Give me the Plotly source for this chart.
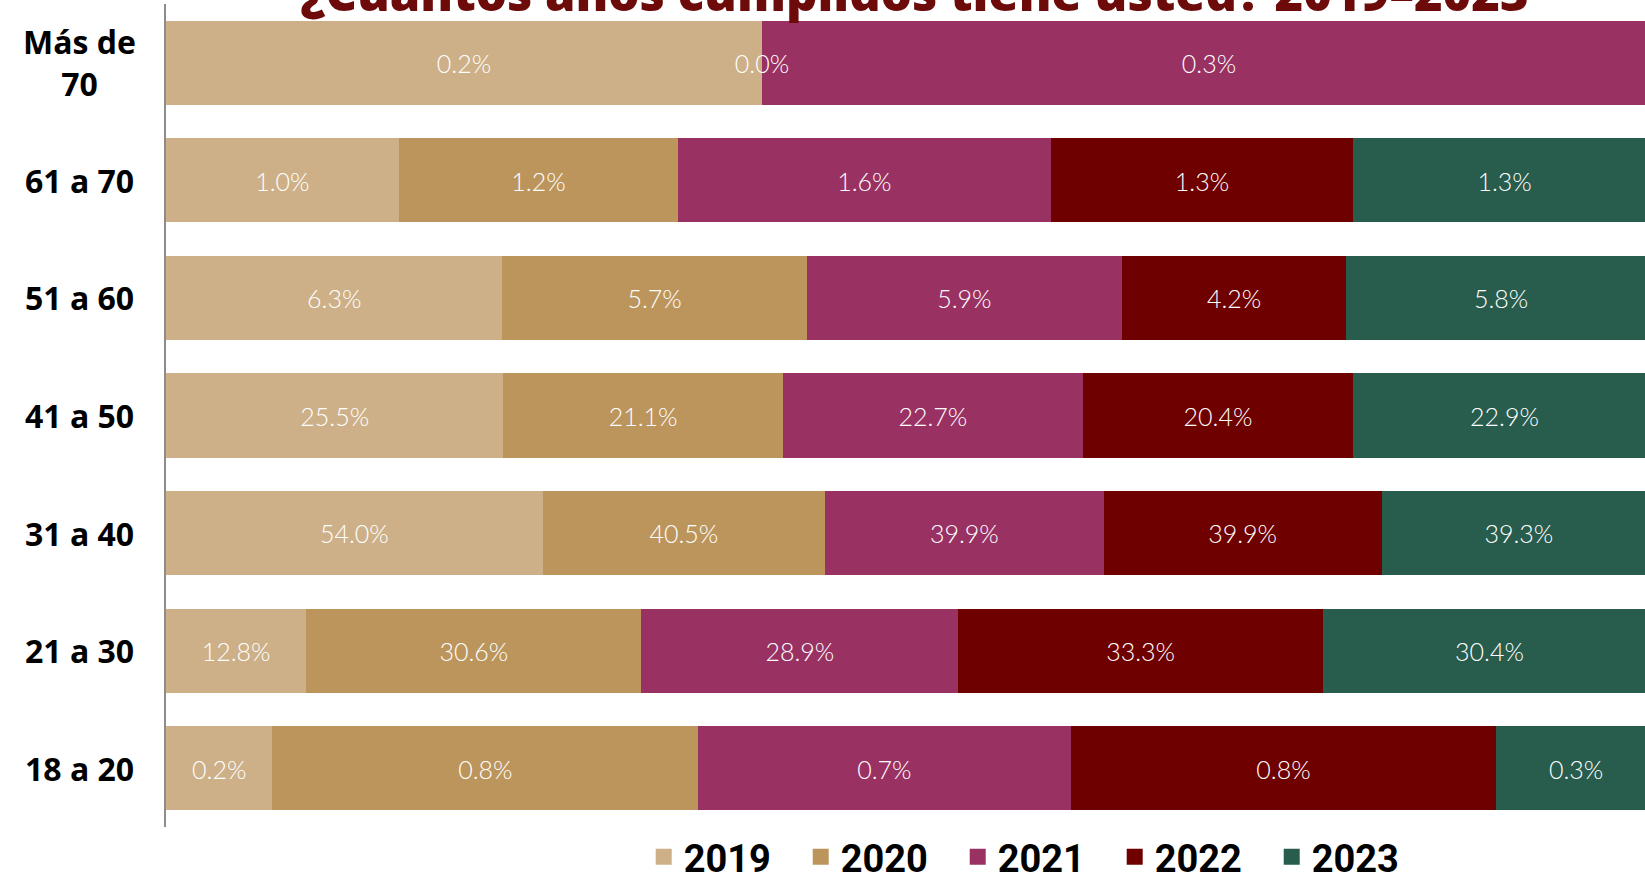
import plotly.graph_objects as go

# Age groups, listed top to bottom as they appear on the chart
age_groups = ["Más de 70", "61 a 70", "51 a 60", "41 a 50", "31 a 40", "21 a 30", "18 a 20"]
age_labels = ["Más de<br>70", "61 a 70", "51 a 60", "41 a 50", "31 a 40", "21 a 30", "18 a 20"]

years = ["2019", "2020", "2021", "2022", "2023"]

# Share of respondents (%) per age group and survey year
pct_2019 = [0.2, 1.0, 6.3, 25.5, 54.0, 12.8, 0.2]
pct_2020 = [0.0, 1.2, 5.7, 21.1, 40.5, 30.6, 0.8]
pct_2021 = [0.3, 1.6, 5.9, 22.7, 39.9, 28.9, 0.7]
pct_2022 = [0.0, 1.3, 4.2, 20.4, 39.9, 33.3, 0.8]
pct_2023 = [0.0, 1.3, 5.8, 22.9, 39.3, 30.4, 0.3]

series = [pct_2019, pct_2020, pct_2021, pct_2022, pct_2023]
colors = ["#CDB088", "#BC955C", "#993263", "#6F0000", "#285C4D"]

W, H = 1645, 875
M_L, M_R, M_T, M_B = 166, 0, 4, 48
n_rows = len(age_groups)

fig = go.Figure()

# Stacked bars, each row normalised to its own total
for year, vals, col in zip(years, series, colors):
    fig.add_trace(go.Bar(
        y=age_groups, x=vals, orientation="h", name=year,
        legendgroup=year, showlegend=False,
        marker=dict(color=col, line=dict(width=0)),
        hoverinfo="skip",
    ))

# Legend entries with larger square swatches
for year, col in zip(years, colors):
    fig.add_trace(go.Scatter(
        x=[None], y=[None], mode="markers", name=year, legendgroup=year,
        marker=dict(symbol="square", size=20, color=col),
        hoverinfo="skip",
    ))

# Value labels centred on each segment (in row-fraction units),
# drawn on an overlaid numeric axis so they can sit a touch below centre
row_totals = [sum(col_vals) for col_vals in zip(*series)]
running = [0.0] * n_rows
label_y = [i + 0.035 for i in range(n_rows)]
for year, vals in zip(years, series):
    centers = []
    for i, v in enumerate(vals):
        centers.append((running[i] + v / 2) / row_totals[i])
        running[i] += v
    fig.add_trace(go.Scatter(
        y=label_y, x=centers, yaxis="y2", mode="text",
        text=[f"{v:.1f}%" for v in vals],
        textposition="middle center",
        textfont=dict(family="Lato", size=25, color="white", weight=300),
        cliponaxis=False, showlegend=False, hoverinfo="skip",
    ))

# Category labels, centred in the left margin
for g, lab in zip(age_groups, age_labels):
    fig.add_annotation(
        x=-0.0588, xref="paper", y=g, yref="y", text=lab,
        showarrow=False, xanchor="center", yanchor="middle", align="center",
        font=dict(family="Open Sans", size=32, color="black", weight="bold"),
    )

fig.update_layout(
    width=W, height=H,
    margin=dict(l=M_L, r=M_R, t=M_T, b=M_B, autoexpand=False),
    barmode="stack", barnorm="fraction", bargap=0.285,
    paper_bgcolor="white", plot_bgcolor="white",
    hovermode=False,
    title=dict(
        text="¿Cuántos años cumplidos tiene usted? 2019–2023",
        x=0.556, xref="container", xanchor="center",
        y=1 - 11 / H, yref="container", yanchor="bottom",
        font=dict(family="Open Sans", size=49, color="#6D0A0A", weight=800),
    ),
    xaxis=dict(range=[0, 0.9926], visible=False, fixedrange=True),
    yaxis=dict(
        autorange="reversed", showticklabels=False, ticks="",
        showgrid=False, zeroline=False,
        showline=True, linecolor="#8C8C8C", linewidth=2,
    ),
    yaxis2=dict(
        overlaying="y", range=[n_rows - 0.5, -0.5], visible=False,
    ),
    legend=dict(
        orientation="h", traceorder="normal",
        x=0.323, xanchor="left",
        y=-0.0365, yanchor="middle",
        entrywidth=112, entrywidthmode="pixels",
        font=dict(family="Roboto", size=38, color="black", weight="bold"),
        bgcolor="rgba(0,0,0,0)",
    ),
)

fig.write_html("out.html")
